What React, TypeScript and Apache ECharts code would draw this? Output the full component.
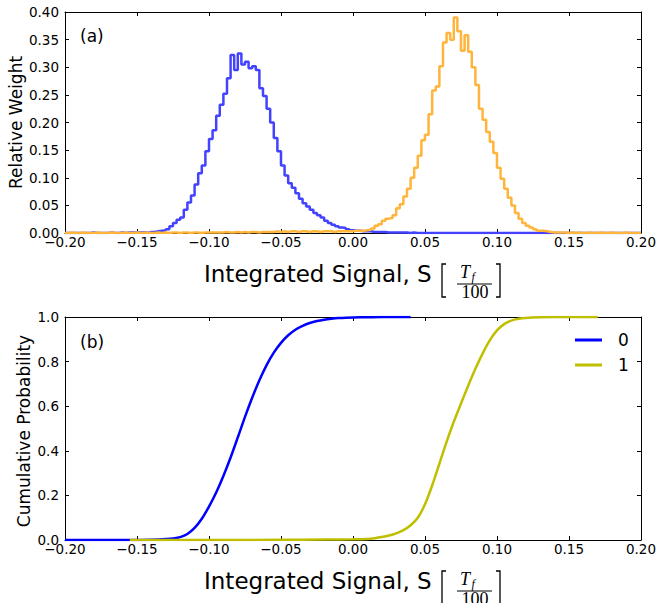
import { useEffect, useRef } from "react";
import * as echarts from "echarts";

// ---- axes ----
const X_MIN = -0.2;
const X_MAX = 0.2;
const X_STEP = 0.05;
const W_MAX = 0.4;
const W_STEP = 0.05;
const P_MAX = 1.0;
const P_STEP = 0.2;

// ---- histogram bins (panel a) ----
const BIN_START = -0.2;
const BIN_WIDTH = 0.0025;

// relative weight per bin, class 0 (blue)
const weight0 = [
  0, 0, 0, 0, 0, 0, 0, 0.001, 0, 0,
  0, 0, 0.001, 0, 0, 0.001, 0, 0.001, 0.001, 0.001,
  0.001, 0.001, 0.001, 0.002, 0.002, 0.003, 0.004, 0.005, 0.007, 0.012,
  0.018, 0.024, 0.028, 0.042, 0.055, 0.068, 0.088, 0.108, 0.122, 0.148,
  0.170, 0.186, 0.212, 0.232, 0.252, 0.280, 0.322, 0.295, 0.325, 0.305,
  0.310, 0.298, 0.302, 0.295, 0.262, 0.248, 0.225, 0.200, 0.172, 0.148,
  0.122, 0.104, 0.090, 0.082, 0.072, 0.062, 0.054, 0.048, 0.042, 0.036,
  0.032, 0.028, 0.022, 0.018, 0.015, 0.012, 0.010, 0.009, 0.007, 0.005,
  0.004, 0.004, 0.003, 0.003, 0.003, 0.002, 0.002, 0.002, 0.002, 0.001,
  0.001, 0.001, 0.001, 0.001, 0.001, 0, 0.001, 0, 0, 0,
  0, 0, 0, 0, 0, 0, 0, 0, 0, 0,
  0, 0, 0, 0, 0, 0, 0, 0, 0, 0,
  0, 0, 0, 0, 0, 0, 0, 0, 0, 0,
  0, 0, 0, 0, 0, 0, 0, 0, 0, 0,
  0, 0, 0, 0, 0, 0, 0, 0, 0, 0,
  0, 0, 0, 0, 0, 0, 0, 0, 0, 0,
];

// relative weight per bin, class 1 (orange)
const weight1 = [
  0, 0.001, 0, 0, 0.001, 0, 0, 0, 0.001, 0,
  0, 0, 0.001, 0, 0, 0, 0.001, 0, 0, 0.001,
  0, 0, 0.001, 0, 0, 0.001, 0, 0.001, 0, 0.001,
  0.001, 0, 0.001, 0.001, 0, 0.001, 0.001, 0, 0.001, 0.001,
  0.001, 0.001, 0.001, 0.001, 0.002, 0.001, 0.001, 0.002, 0.001, 0.002,
  0.001, 0.002, 0.002, 0.001, 0.002, 0.002, 0.002, 0.002, 0.003, 0.002,
  0.003, 0.002, 0.003, 0.003, 0.002, 0.003, 0.003, 0.002, 0.003, 0.003,
  0.002, 0.003, 0.003, 0.003, 0.002, 0.003, 0.003, 0.003, 0.003, 0.003,
  0.004, 0.004, 0.004, 0.005, 0.006, 0.008, 0.013, 0.016, 0.022, 0.026,
  0.027, 0.032, 0.045, 0.052, 0.066, 0.080, 0.100, 0.118, 0.140, 0.168,
  0.178, 0.215, 0.258, 0.265, 0.302, 0.345, 0.362, 0.350, 0.390, 0.365,
  0.330, 0.358, 0.328, 0.300, 0.268, 0.225, 0.205, 0.183, 0.165, 0.145,
  0.118, 0.098, 0.080, 0.064, 0.050, 0.036, 0.026, 0.018, 0.013, 0.010,
  0.007, 0.004, 0.004, 0.003, 0.002, 0.001, 0.001, 0.001, 0.001, 0,
  0.001, 0, 0.001, 0, 0, 0.001, 0, 0, 0.001, 0,
  0, 0.001, 0, 0, 0, 0.001, 0, 0, 0, 0,
];

// ---- cumulative probability (panel b) ----
const cdf0X = [-0.2, -0.15, -0.14, -0.135, -0.13, -0.125, -0.12, -0.115, -0.11, -0.105, -0.1, -0.095, -0.09, -0.085, -0.08, -0.075, -0.07, -0.065, -0.06, -0.055, -0.05, -0.045, -0.04, -0.035, -0.03, -0.025, -0.02, -0.015, -0.01, -0.005, 0, 0.01, 0.02, 0.04];
const cdf0Y = [0, 0, 0.001, 0.002, 0.004, 0.007, 0.013, 0.027, 0.054, 0.095, 0.150, 0.213, 0.287, 0.370, 0.460, 0.552, 0.638, 0.716, 0.784, 0.840, 0.884, 0.918, 0.943, 0.960, 0.973, 0.982, 0.988, 0.992, 0.995, 0.997, 0.998, 0.999, 1, 1];

const cdf1X = [-0.155, -0.1, -0.05, -0.02, 0, 0.01, 0.015, 0.02, 0.025, 0.03, 0.035, 0.04, 0.045, 0.05, 0.055, 0.06, 0.065, 0.07, 0.075, 0.08, 0.085, 0.09, 0.095, 0.1, 0.105, 0.11, 0.115, 0.12, 0.13, 0.14, 0.17];
const cdf1Y = [0, 0, 0.001, 0.002, 0.003, 0.005, 0.008, 0.013, 0.020, 0.030, 0.044, 0.066, 0.100, 0.160, 0.245, 0.342, 0.440, 0.530, 0.612, 0.692, 0.768, 0.836, 0.895, 0.940, 0.968, 0.984, 0.992, 0.996, 0.999, 1, 1];

const LEGEND_NAMES = ["0", "1"];
const PANEL_LABELS = ["(a)", "(b)"];
const Y_NAMES = ["Relative Weight", "Cumulative Probability"];

const HIST_COLORS = ["#4343ff", "#ffb53c"];
const CDF_COLORS = ["#0000ff", "#bfbf00"];

const SANS = "DejaVu Sans";
const SERIF = "Liberation Serif";

function histPoints(w: number[]) {
  const pts: number[][] = w.map((v, i) => [BIN_START + i * BIN_WIDTH, v]);
  pts.push([BIN_START + w.length * BIN_WIDTH, w[w.length - 1]]);
  return pts;
}

function fmtX(v: number) {
  const s = Math.abs(v).toFixed(2);
  return v < -1e-9 ? "\u2212" + s : s;
}

function xTitle(axisY: number) {
  const mid = axisY + 40.7;
  return [
    {
      type: "text",
      x: 204,
      y: mid,
      style: {
        text: "Integrated Signal, S",
        font: `23px "${SANS}"`,
        fill: "#000",
        align: "left",
        verticalAlign: "middle",
      },
    },
    {
      type: "polyline",
      shape: { points: [[446, axisY + 31], [442, axisY + 31], [442, axisY + 64], [446, axisY + 64]] },
      style: { stroke: "#000", lineWidth: 1.3, fill: null },
    },
    {
      type: "text",
      x: 460,
      y: axisY + 38.5,
      style: {
        text: "T",
        font: `italic 18px "${SERIF}"`,
        fill: "#000",
        align: "left",
        verticalAlign: "middle",
      },
    },
    {
      type: "text",
      x: 471.5,
      y: axisY + 44,
      style: {
        text: "f",
        font: `italic 12px "${SERIF}"`,
        fill: "#000",
        align: "left",
        verticalAlign: "middle",
      },
    },
    {
      type: "line",
      shape: { x1: 457, y1: axisY + 51, x2: 492, y2: axisY + 51 },
      style: { stroke: "#000", lineWidth: 1 },
    },
    {
      type: "text",
      x: 475,
      y: axisY + 59,
      style: {
        text: "100",
        font: `18px "${SERIF}"`,
        fill: "#000",
        align: "center",
        verticalAlign: "middle",
      },
    },
    {
      type: "polyline",
      shape: { points: [[496, axisY + 31], [500, axisY + 31], [500, axisY + 64], [496, axisY + 64]] },
      style: { stroke: "#000", lineWidth: 1.3, fill: null },
    },
  ];
}

function yTitle(text: string, cx: number, cy: number) {
  return {
    type: "text",
    x: cx,
    y: cy,
    rotation: Math.PI / 2,
    style: {
      text,
      font: `17px "${SANS}"`,
      fill: "#000",
      align: "center",
      verticalAlign: "middle",
    },
  };
}

export default function App() {
  const ref = useRef<HTMLDivElement>(null);

  useEffect(() => {
    if (!ref.current) return;
    const chart = echarts.init(ref.current, null, { renderer: "svg" });

    const axisLine = { show: true, onZero: false, lineStyle: { color: "#000", width: 1 } };
    const tick = { show: true, inside: true, length: 4, lineStyle: { color: "#000", width: 1 } };
    const tickLabel = { color: "#000", fontFamily: SANS, fontSize: 13.5 };

    const xBottom = (grid: number) => ({
      type: "value",
      gridIndex: grid,
      position: "bottom",
      min: X_MIN,
      max: X_MAX,
      interval: X_STEP,
      axisLine,
      axisTick: tick,
      splitLine: { show: false },
      axisLabel: { ...tickLabel, margin: 2, formatter: fmtX, showMinLabel: true, showMaxLabel: true },
    });
    const xTop = (grid: number) => ({
      type: "value",
      gridIndex: grid,
      position: "top",
      min: X_MIN,
      max: X_MAX,
      interval: X_STEP,
      axisLine,
      axisTick: tick,
      splitLine: { show: false },
      axisLabel: { show: false },
    });
    const yLeft = (grid: number, max: number, step: number, dec: number) => ({
      type: "value",
      gridIndex: grid,
      position: "left",
      min: 0,
      max,
      interval: step,
      axisLine,
      axisTick: tick,
      splitLine: { show: false },
      axisLabel: { ...tickLabel, margin: 6, formatter: (v: number) => v.toFixed(dec) },
    });
    const yRight = (grid: number, max: number, step: number) => ({
      type: "value",
      gridIndex: grid,
      position: "right",
      min: 0,
      max,
      interval: step,
      axisLine,
      axisTick: tick,
      splitLine: { show: false },
      axisLabel: { show: false },
    });

    const option: any = {
      animation: false,
      backgroundColor: "#fff",
      grid: [
        { left: 65, top: 12, width: 578, height: 221, containLabel: false },
        { left: 65, top: 317, width: 578, height: 223, containLabel: false },
      ],
      xAxis: [xBottom(0), xTop(0), xBottom(1), xTop(1)],
      yAxis: [
        yLeft(0, W_MAX, W_STEP, 2),
        yRight(0, W_MAX, W_STEP),
        yLeft(1, P_MAX, P_STEP, 1),
        yRight(1, P_MAX, P_STEP),
      ],
      legend: {
        data: LEGEND_NAMES,
        orient: "vertical",
        left: 575,
        top: 331.5,
        icon: "rect",
        itemWidth: 27,
        itemHeight: 3,
        itemGap: 8,
        padding: 0,
        textStyle: { color: "#000", fontFamily: SANS, fontSize: 17, padding: [0, 0, 0, 11] },
      },
      series: [
        {
          name: "hist0",
          type: "line",
          xAxisIndex: 0,
          yAxisIndex: 0,
          step: "end",
          showSymbol: false,
          data: histPoints(weight0),
          lineStyle: { color: HIST_COLORS[0], width: 2.5 },
          itemStyle: { color: HIST_COLORS[0] },
        },
        {
          name: "hist1",
          type: "line",
          xAxisIndex: 0,
          yAxisIndex: 0,
          step: "end",
          showSymbol: false,
          data: histPoints(weight1),
          lineStyle: { color: HIST_COLORS[1], width: 2.5 },
          itemStyle: { color: HIST_COLORS[1] },
        },
        {
          name: LEGEND_NAMES[0],
          type: "line",
          xAxisIndex: 2,
          yAxisIndex: 2,
          smooth: 0.3,
          showSymbol: false,
          data: cdf0X.map((x, i) => [x, cdf0Y[i]]),
          lineStyle: { color: CDF_COLORS[0], width: 2.5 },
          itemStyle: { color: CDF_COLORS[0] },
        },
        {
          name: LEGEND_NAMES[1],
          type: "line",
          xAxisIndex: 2,
          yAxisIndex: 2,
          smooth: 0.3,
          showSymbol: false,
          data: cdf1X.map((x, i) => [x, cdf1Y[i]]),
          lineStyle: { color: CDF_COLORS[1], width: 2.5 },
          itemStyle: { color: CDF_COLORS[1] },
        },
      ],
      graphic: [
        {
          type: "text",
          x: 80,
          y: 35.5,
          style: { text: PANEL_LABELS[0], font: `17px "${SANS}"`, fill: "#000", verticalAlign: "middle" },
        },
        {
          type: "text",
          x: 80,
          y: 341.5,
          style: { text: PANEL_LABELS[1], font: `17px "${SANS}"`, fill: "#000", verticalAlign: "middle" },
        },
        yTitle(Y_NAMES[0], 15.5, 122.5),
        yTitle(Y_NAMES[1], 23.5, 431),
        ...xTitle(233),
        ...xTitle(540),
      ],
    };

    chart.setOption(option);
    return () => chart.dispose();
  }, []);

  return (
    <div
      ref={ref}
      style={{ position: "absolute", left: 0, top: 0, width: 659, height: 603, background: "#fff" }}
    />
  );
}
